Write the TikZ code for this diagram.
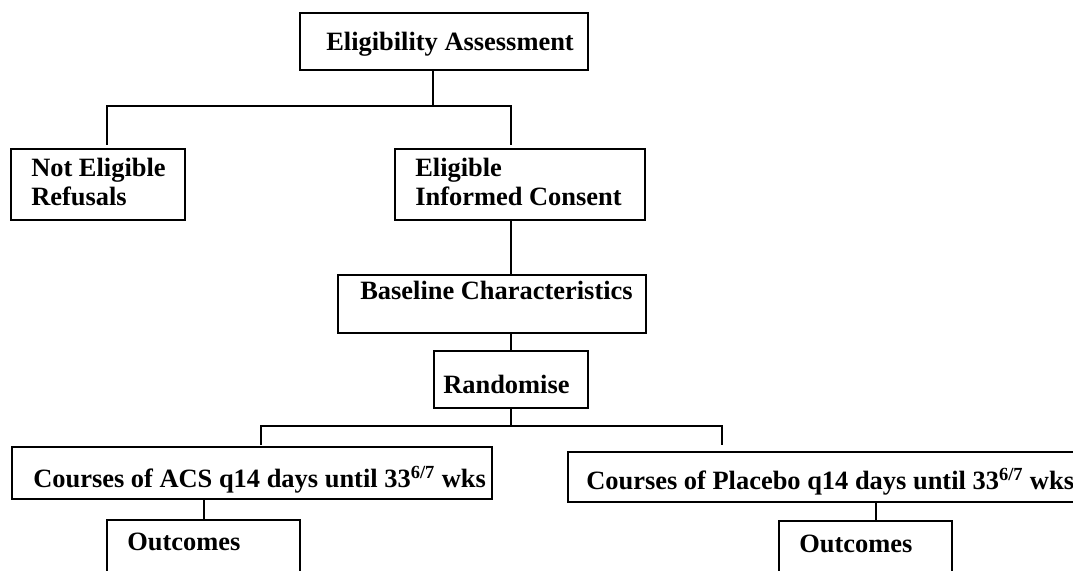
\documentclass[tikz,border=0pt]{standalone}
\usepackage{fontspec}
\setmainfont{Liberation Serif}
\usetikzlibrary{fit}
\tikzset{
    stagebox/.style={draw, line width=1.3pt, inner sep=0pt},
    stagetext/.style={anchor=base west, inner sep=0pt, align=left,
        font=\fontsize{18.8pt}{21.3pt}\selectfont\bfseries},
    link/.style={line width=1.3pt}
}
\begin{document}
\begin{tikzpicture}[x=0.025cm, y=-0.025cm]
    \useasboundingbox (0, 0) rectangle (1073, 571);
    \clip (0, 0) rectangle (1073, 571);
        \node[stagebox, fit={(300, 13) (588, 70)}] (assess){};
            \node[stagetext] (assesst) at (326, 51){Eligibility Assessment};
        \node[stagebox, fit={(11, 149) (185, 220)}] (notelig){};
            \node[stagetext] (noteligt) at (31, 206){Not Eligible\\Refusals};
        \node[stagebox, fit={(395, 149) (645, 220)}] (elig){};
            \node[stagetext] (eligt) at (415, 206){Eligible\\Informed Consent};
        \node[stagebox, fit={(338, 275) (646, 333)}] (baseline){};
            \node[stagetext] (baselinet) at (360, 300){Baseline Characteristics};
        \node[stagebox, fit={(434, 351) (588, 408)}] (random){};
            \node[stagetext] (randomt) at (443, 393){Randomise};
        \node[stagebox, fit={(12, 447) (492, 499)}] (acs){};
            \node[stagetext] (acst) at (33, 487){Courses of ACS q14 days until 33\textsuperscript{6/7} wks};
        \node[stagebox, fit={(568, 452) (1100, 502)}] (placebo){};
            \node[stagetext] (placebot) at (586, 489){Courses of Placebo q14 days until 33\textsuperscript{6/7} wks};
        \node[stagebox, fit={(107, 520) (300, 620)}] (outacs){};
            \node[stagetext] (outacst) at (127, 550){Outcomes};
        \node[stagebox, fit={(779, 521) (952, 620)}] (outplac){};
            \node[stagetext] (outplact) at (799, 552){Outcomes};

        \coordinate (split1) at (433, 106);
        \coordinate (split2) at (511, 426);
        \coordinate (notend) at (107, 145);
        \coordinate (eligend) at (511, 145);
        \coordinate (acsend) at (261, 445);
        \coordinate (placend) at (722, 445);

        \draw[link](assess.south -| split1) to (split1);
        \draw[link](notend) |- (split1) -| (eligend);
        \draw[link](elig.south -| split2) to (baseline.north -| split2);
        \draw[link](baseline.south -| split2) to (random.north -| split2);
        \draw[link](random.south -| split2) to (split2);
        \draw[link](acsend) |- (split2) -| (placend);
        \draw[link](acs.south -| 204, 0) to (outacs.north -| 204, 0);
        \draw[link](placebo.south -| 876, 0) to (outplac.north -| 876, 0);
\end{tikzpicture}
\end{document}
